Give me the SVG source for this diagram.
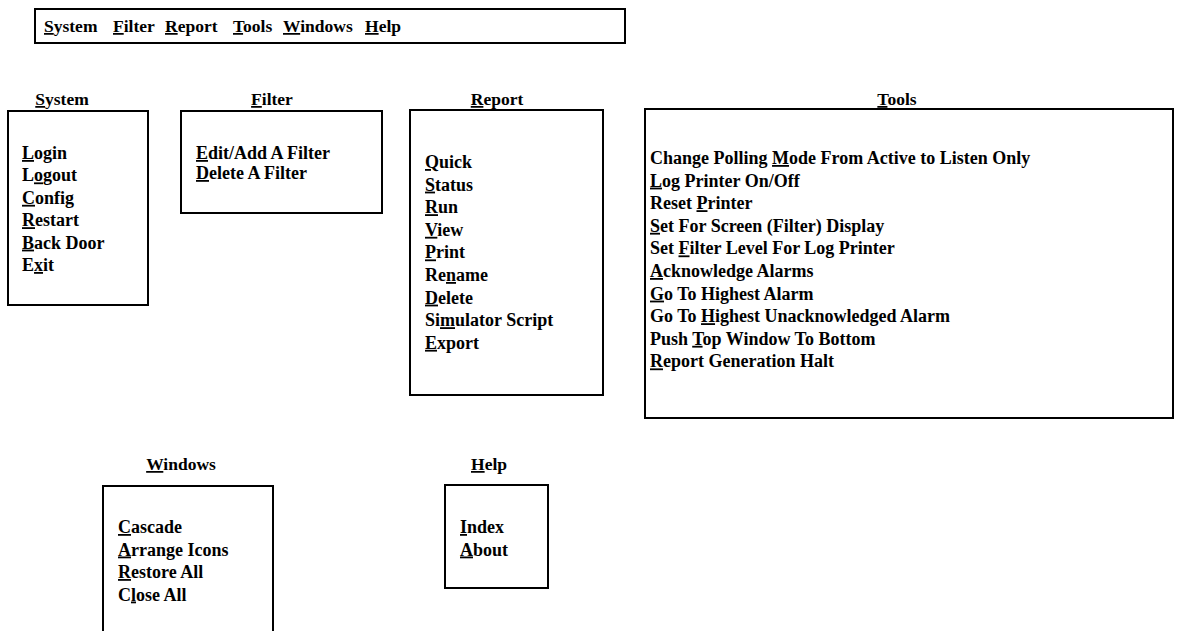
<svg xmlns="http://www.w3.org/2000/svg" width="1177" height="631" viewBox="0 0 1177 631">
<style>
text{font-family:"Liberation Serif","Times New Roman",serif;font-weight:bold;font-size:18px;fill:#000}
.m{font-size:17.5px}
.u{text-decoration:underline}
.box{fill:none;stroke:#000;stroke-width:2}
.lbl{text-anchor:middle;font-size:17.5px}
</style>
<rect width="1177" height="631" fill="#fff"/>
<g id="menubar">
<rect class="box" x="35" y="9" width="590" height="34"/>
<text class="m" y="32"><tspan x="44"><tspan class="u">S</tspan>ystem</tspan><tspan x="113"><tspan class="u">F</tspan>ilter</tspan><tspan x="165"><tspan class="u">R</tspan>eport</tspan><tspan x="233"><tspan class="u">T</tspan>ools</tspan><tspan x="283"><tspan class="u">W</tspan>indows</tspan><tspan x="365"><tspan class="u">H</tspan>elp</tspan></text>
</g>
<g id="system">
<text class="lbl" x="62" y="105"><tspan class="u">S</tspan>ystem</text>
<rect class="box" x="8" y="111" width="140" height="194"/>
<text x="22" y="159"><tspan class="u">L</tspan>ogin</text>
<text x="22" y="181.4">L<tspan class="u">o</tspan>gout</text>
<text x="22" y="203.8"><tspan class="u">C</tspan>onfig</text>
<text x="22" y="226.2"><tspan class="u">R</tspan>estart</text>
<text x="22" y="248.6"><tspan class="u">B</tspan>ack Door</text>
<text x="22" y="271">E<tspan class="u">x</tspan>it</text>
</g>
<g id="filter">
<text class="lbl" x="272" y="105"><tspan class="u">F</tspan>ilter</text>
<rect class="box" x="181" y="111" width="201" height="102"/>
<text x="196" y="159"><tspan class="u">E</tspan>dit/Add A Filter</text>
<text x="196" y="179"><tspan class="u">D</tspan>elete A Filter</text>
</g>
<g id="report">
<text class="lbl" x="497" y="105"><tspan class="u">R</tspan>eport</text>
<rect class="box" x="410" y="110" width="193" height="285"/>
<text x="425" y="168"><tspan class="u">Q</tspan>uick</text>
<text x="425" y="190.6"><tspan class="u">S</tspan>tatus</text>
<text x="425" y="213.2"><tspan class="u">R</tspan>un</text>
<text x="425" y="235.8"><tspan class="u">V</tspan>iew</text>
<text x="425" y="258.4"><tspan class="u">P</tspan>rint</text>
<text x="425" y="281">Re<tspan class="u">n</tspan>ame</text>
<text x="425" y="303.6"><tspan class="u">D</tspan>elete</text>
<text x="425" y="326.2">Si<tspan class="u">m</tspan>ulator Script</text>
<text x="425" y="348.8"><tspan class="u">E</tspan>xport</text>
</g>
<g id="tools">
<text class="lbl" x="897" y="105"><tspan class="u">T</tspan>ools</text>
<rect class="box" x="645" y="109" width="528" height="309"/>
<text x="650" y="164">Change Polling <tspan class="u">M</tspan>ode From Active to Listen Only</text>
<text x="650" y="186.6"><tspan class="u">L</tspan>og Printer On/Off</text>
<text x="650" y="209.2">Reset <tspan class="u">P</tspan>rinter</text>
<text x="650" y="231.8"><tspan class="u">S</tspan>et For Screen (Filter) Display</text>
<text x="650" y="254.4">Set <tspan class="u">F</tspan>ilter Level For Log Printer</text>
<text x="650" y="277"><tspan class="u">A</tspan>cknowledge Alarms</text>
<text x="650" y="299.6"><tspan class="u">G</tspan>o To Highest Alarm</text>
<text x="650" y="322.2">Go To <tspan class="u">H</tspan>ighest Unacknowledged Alarm</text>
<text x="650" y="344.8">Push <tspan class="u">T</tspan>op Window To Bottom</text>
<text x="650" y="367.4"><tspan class="u">R</tspan>eport Generation Halt</text>
</g>
<g id="windows">
<text class="lbl" x="181" y="470"><tspan class="u">W</tspan>indows</text>
<path class="box" d="M103 640V486H273V640"/>
<text x="118" y="533"><tspan class="u">C</tspan>ascade</text>
<text x="118" y="555.5"><tspan class="u">A</tspan>rrange Icons</text>
<text x="118" y="578"><tspan class="u">R</tspan>estore All</text>
<text x="118" y="600.5">C<tspan class="u">l</tspan>ose All</text>
</g>
<g id="help">
<text class="lbl" x="489" y="470"><tspan class="u">H</tspan>elp</text>
<rect class="box" x="445" y="485" width="103" height="103"/>
<text x="460" y="533"><tspan class="u">I</tspan>ndex</text>
<text x="460" y="555.5"><tspan class="u">A</tspan>bout</text>
</g>
<g id="connectors"/>
</svg>
